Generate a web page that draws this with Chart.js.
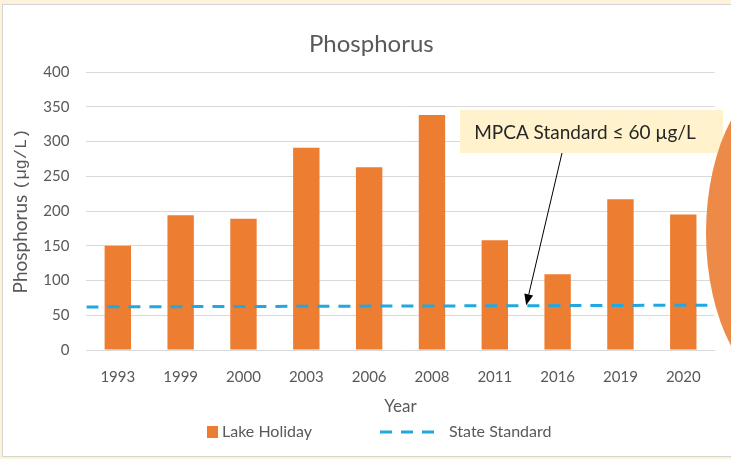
<!DOCTYPE html>
<html>
<head>
<meta charset="utf-8">
<title>Phosphorus</title>
<script src="https://cdn.jsdelivr.net/npm/chart.js@4.4.1/dist/chart.umd.min.js"></script>
<style>
  html, body { margin: 0; padding: 0; background: #fdf3da; }
  canvas { display: block; }
</style>
</head>
<body>
<canvas id="chart" width="731" height="459"></canvas>
<script>
// values
const years = ['1993', '1999', '2000', '2003', '2006', '2008', '2011', '2016', '2019', '2020'];
const lakeHoliday = [150, 194, 189, 291, 263, 338, 158, 109, 217, 195];
// state standard is drawn edge to edge of the category band
const standardX = [-0.5, 9.5];
const standardY = [62, 64.5];
const yMin = 0, yMax = 400, yStep = 50;

const FONT = 'Lato, "Open Sans", sans-serif';
const MONO = '"Liberation Mono", "DejaVu Sans Mono", monospace';
const GREY_TEXT = '#595959';
const ORANGE = '#ed7d31';
const BLUE = '#22a8e0';

// white card with a thin grey edge on the cream page
const panel = {
  id: 'panel',
  beforeDraw(chart) {
    const { ctx, width, height } = chart;
    ctx.save();
    ctx.fillStyle = '#fdf3da';
    ctx.fillRect(0, 0, width, height);
    ctx.fillStyle = '#ffffff';
    ctx.fillRect(3, 5, width, height - 8);
    ctx.strokeStyle = '#d4d4d4';
    ctx.lineWidth = 1;
    ctx.strokeRect(2.5, 4.5, width + 10, height - 7);
    ctx.restore();
  }
};

// y axis title: sans for the word, mono for the unit
const yTitle = {
  id: 'yTitle',
  afterDraw(chart) {
    const { ctx, chartArea } = chart;
    const word = 'Phosphorus ';
    const unit = '(µg/L)';
    const wordFont = '19px ' + FONT;
    const unitFont = '17px ' + MONO;
    ctx.save();
    ctx.translate(21, (chartArea.top + chartArea.bottom) / 2);
    ctx.rotate(-Math.PI / 2);
    ctx.textBaseline = 'middle';
    ctx.textAlign = 'left';
    ctx.fillStyle = GREY_TEXT;
    ctx.font = wordFont;
    const w1 = ctx.measureText(word).width;
    ctx.font = unitFont;
    const w2 = ctx.measureText(unit).width;
    const x = -(w1 + w2) / 2;
    ctx.font = wordFont;
    ctx.fillText(word, x, 0);
    ctx.font = unitFont;
    ctx.fillText(unit, x + w1, 0);
    ctx.restore();
  }
};

// yellow callout with an arrow pointing at the standard line
const callout = {
  id: 'callout',
  afterDatasetsDraw(chart) {
    const { ctx } = chart;
    const xs = chart.scales.xLine, ys = chart.scales.y;
    const box = { x: 460, y: 110, w: 263, h: 43 };
    ctx.save();
    ctx.fillStyle = '#fff2cc';
    ctx.fillRect(box.x, box.y, box.w, box.h);
    ctx.fillStyle = '#262626';
    ctx.font = '19px ' + FONT;
    ctx.textAlign = 'center';
    ctx.textBaseline = 'middle';
    ctx.fillText('MPCA Standard ≤ 60 µg/L', box.x + 125, box.y + box.h / 2 + 1);

    const sx = 562, sy = box.y + box.h;
    const tx = xs.getPixelForValue(6.5), ty = ys.getPixelForValue(63) - 1;
    const ang = Math.atan2(ty - sy, tx - sx);
    const len = 11, half = 4.5;
    const bx = tx - len * Math.cos(ang), by = ty - len * Math.sin(ang);
    ctx.strokeStyle = '#000';
    ctx.lineWidth = 1;
    ctx.beginPath();
    ctx.moveTo(sx, sy);
    ctx.lineTo(bx, by);
    ctx.stroke();
    ctx.fillStyle = '#000';
    ctx.beginPath();
    ctx.moveTo(tx, ty);
    ctx.lineTo(bx + half * Math.sin(ang), by - half * Math.cos(ang));
    ctx.lineTo(bx - half * Math.sin(ang), by + half * Math.cos(ang));
    ctx.closePath();
    ctx.fill();
    ctx.restore();
  }
};

// legend drawn by hand so the dashed sample looks like a line
const legendRow = {
  id: 'legendRow',
  afterDraw(chart) {
    const { ctx } = chart;
    const [bars, std] = chart.data.datasets;
    const y = 432;
    ctx.save();
    ctx.font = '16px ' + FONT;
    ctx.fillStyle = bars.backgroundColor;
    ctx.fillRect(207, y - 6, 11, 12);
    ctx.fillStyle = GREY_TEXT;
    ctx.textBaseline = 'middle';
    ctx.fillText(bars.label, 222, y);
    ctx.strokeStyle = std.borderColor;
    ctx.lineWidth = std.borderWidth;
    ctx.setLineDash(std.borderDash);
    ctx.beginPath();
    ctx.moveTo(380, y);
    ctx.lineTo(434, y);
    ctx.stroke();
    ctx.fillText(std.label, 449, y);
    ctx.restore();
  }
};

// the orange shape cut off on the right edge
const blob = {
  id: 'blob',
  afterDraw(chart) {
    const { ctx } = chart;
    ctx.save();
    ctx.fillStyle = '#ee8a47';
    ctx.beginPath();
    ctx.ellipse(792, 233, 86, 160, 0, 0, Math.PI * 2);
    ctx.fill();
    ctx.restore();
  }
};

new Chart(document.getElementById('chart'), {
  data: {
    labels: years,
    datasets: [
      {
        type: 'bar',
        label: 'Lake Holiday',
        data: lakeHoliday,
        backgroundColor: ORANGE,
        grouped: false,
        barPercentage: 0.42,
        categoryPercentage: 1,
        order: 2
      },
      {
        type: 'line',
        label: 'State Standard',
        data: standardX.map((x, i) => ({ x, y: standardY[i] })),
        xAxisID: 'xLine',
        borderColor: BLUE,
        borderWidth: 3,
        borderDash: [12, 9],
        pointRadius: 0,
        fill: false,
        order: 1
      }
    ]
  },
  options: {
    responsive: false,
    animation: false,
    layout: { padding: { top: 6, left: 28, right: 16.3, bottom: 38 } },
    plugins: {
      legend: { display: false },
      tooltip: { enabled: false },
      title: {
        display: true,
        text: 'Phosphorus',
        color: GREY_TEXT,
        font: { family: FONT, size: 24, weight: 'normal' },
        padding: { top: 23.6, bottom: 13.6 }
      }
    },
    scales: {
      x: {
        type: 'category',
        offset: true,
        grid: { display: false, drawTicks: false },
        border: { color: '#d9d9d9' },
        ticks: { color: GREY_TEXT, font: { family: FONT, size: 15 }, padding: 18, maxRotation: 0 },
        title: {
          display: true,
          text: 'Year',
          color: GREY_TEXT,
          font: { family: FONT, size: 17 },
          padding: { top: 9.8, bottom: 4 }
        },
        afterFit(scale) { scale.height = 71; }
      },
      xLine: {
        type: 'linear',
        display: false,
        min: standardX[0],
        max: standardX[1]
      },
      y: {
        min: yMin,
        max: yMax,
        ticks: { stepSize: yStep, color: GREY_TEXT, font: { family: FONT, size: 15 }, padding: 17 },
        grid: { color: '#d9d9d9', drawTicks: false },
        border: { display: false },
        afterFit(scale) { scale.width = 58.4; }
      }
    }
  },
  plugins: [panel, callout, yTitle, legendRow, blob]
});
</script>
</body>
</html>
